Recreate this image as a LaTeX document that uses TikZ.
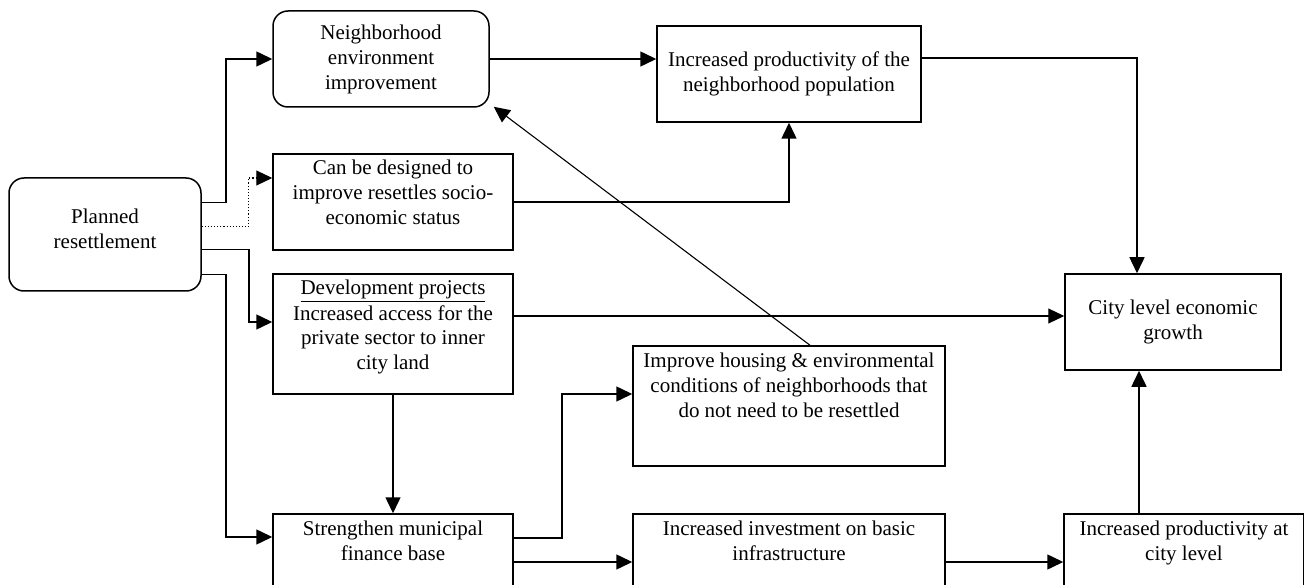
\documentclass[tikz,border=0pt]{standalone}
\usepackage{fontspec}
\setmainfont{Liberation Serif}
\usetikzlibrary{arrows.meta}

% text set at the top of a fixed box
\newcommand{\toptext}[3]{\parbox[c][#2][t]{#1}{\centering\rule{0pt}{21pt}#3}}

\begin{document}
\begin{tikzpicture}[x=1pt, y=-1pt,
    box/.style={draw, line width=1.5pt, inner sep=0pt, font=\fontsize{21}{25}\selectfont},
    cbox/.style={box, align=center},
    rbox/.style={cbox, rounded corners=15pt},
    arr/.style={line width=1.5pt, -{Triangle[length=16pt, width=15pt]}},
    thinarr/.style={arr, line width=1.1pt}]
    \path[use as bounding box, clip] (0,0) rectangle (1304,585);

    \node[rbox, minimum width=192pt, minimum height=113pt, text depth=12pt] (plan) at (105,234.5) {Planned\\resettlement};
    \node[rbox, minimum width=216pt, minimum height=96pt] (envimp) at (381,59) {Neighborhood\\environment\\improvement};
    \node[box] (design) at (393,202) {\toptext{240pt}{96pt}{Can be designed to\\improve resettles socio-\\economic status}};
    \node[box] (devproj) at (393,334) {\toptext{240pt}{120pt}{\underline{Development projects}\\Increased access for the\\private sector to inner\\city land}};
    \node[box] (finance) at (393,562) {\toptext{240pt}{96pt}{Strengthen municipal\\finance base}};
    \node[cbox, minimum width=264pt, minimum height=96pt] (prodnb) at (789,74) {Increased productivity of the\\neighborhood population};
    \node[box] (housing) at (789,406) {\toptext{312pt}{120pt}{Improve housing \& environmental\\conditions of neighborhoods that\\do not need to be resettled}};
    \node[box] (invest) at (789,562) {\toptext{312pt}{96pt}{Increased investment on basic\\infrastructure}};
    \node[cbox, minimum width=216pt, minimum height=96pt] (citygrowth) at (1173,322) {City level economic\\growth};
    \node[box] (prodcity) at (1184,562) {\toptext{240pt}{96pt}{Increased productivity at\\city level}};

    \draw[arr] ([yshift=32pt]plan.east) -- ++(24,0) |- (envimp.west);
    \draw[arr, line width=1.1pt, dotted] ([yshift=8pt]plan.east) -- ++(47,0) |- ([yshift=24pt]design.west);
    \draw[arr] ([yshift=-15pt]plan.east) -- ++(47,0) |- ([yshift=12pt]devproj.west);
    \draw[arr] ([yshift=-40pt]plan.east) -- ++(24,0) |- ([yshift=25pt]finance.west);

    \draw[arr] (envimp.east) -- (envimp.east -| prodnb.west);
    \draw[arr] (design.east) -| (prodnb.south);
    \draw[arr] ([yshift=16pt]prodnb.east) -| ([xshift=-36pt]citygrowth.north);
    \draw[thinarr] ([yshift=18pt]devproj.east) -- ([yshift=18pt]devproj.east -| citygrowth.west);
    \draw[arr] (devproj.south) -- (finance.north);
    \draw[thinarr] ([xshift=21pt]housing.north) -- ([xshift=4pt, yshift=1pt]envimp.south east);

    \draw[arr] ([yshift=24pt]finance.east) -- ++(48,0) |- ([yshift=12pt]housing.west);
    \draw[arr] (finance.east) -- (invest.west);
    \draw[arr] (invest.east) -- (prodcity.west);
    \draw[arr] ([xshift=-45pt]prodcity.north) -- ([xshift=-34pt]citygrowth.south);
\end{tikzpicture}
\end{document}
